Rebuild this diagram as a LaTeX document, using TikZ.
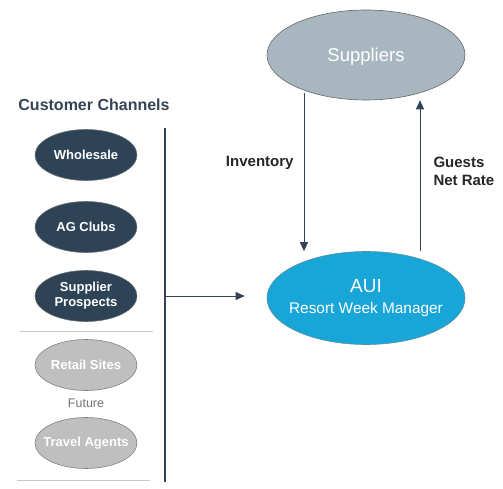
\documentclass[tikz,border=0pt]{standalone}
\usepackage{fontspec}
\setmainfont{Liberation Sans}
\usetikzlibrary{shapes.geometric,positioning,arrows.meta}
\definecolor{colChannel}{RGB}{46,67,86}
\definecolor{colFuture}{RGB}{191,191,191}
\definecolor{colSupplier}{RGB}{168,183,191}
\definecolor{colAui}{RGB}{24,166,216}
\definecolor{colLine}{RGB}{52,68,84}
\definecolor{colRule}{RGB}{200,200,200}

\begin{document}
\begin{tikzpicture}[x=1pt, y=-1pt,
    every node/.style={font=\fontsize{13}{15}\selectfont\bfseries},
    chan/.style={ellipse, minimum width=102pt, minimum height=51pt, inner xsep=-12pt, inner ysep=0pt,
        align=center, text=white},
    flow/.style={draw=colLine, line width=1pt, -{Triangle[length=9pt,width=8pt]}}]
    \useasboundingbox (0,0) rectangle (503,489);

    % customer channels
    \node[text=colLine, font=\fontsize{16}{18}\selectfont\bfseries] (title) at (94,105) {Customer Channels};
    \foreach \nm/\y/\txt in {whl/155/Wholesale, agc/227/AG Clubs, sp/296/{Supplier\\Prospects}} {
        \node[chan, fill=colChannel, draw=gray!70!colChannel, line width=0.6pt] (\nm) at (86,\y) {\txt};
    }
    \draw[colRule, line width=0.8pt] (20,331) -- (153,331);
    \node[chan, fill=colFuture, draw=gray, line width=0.6pt] (ret) at (86,365) {Retail Sites};
    \node[font=\fontsize{12.5}{14}\selectfont, text=gray!90!black] (fut) at (86,403) {Future};
    \node[chan, fill=colFuture, draw=gray, line width=0.6pt] (trv) at (86,443) {Travel Agents};
    \draw[colRule, line width=0.8pt] (17,480) -- (150,480);

    % channel bar
    \coordinate (barTop) at (165,128);
    \coordinate (barBot) at (165,482);
    \draw[colLine, line width=1.6pt] (barTop) -- (barBot);

    % supplier side
    \node[ellipse, minimum width=198pt, minimum height=90pt, fill=colSupplier, draw=gray!80!black,
        line width=0.6pt, text=white, text depth=0pt, font=\fontsize{18.5}{20}\selectfont] (sup) at (366,55) {Suppliers};
    \node[ellipse, minimum width=198pt, minimum height=93pt, inner xsep=-14pt, inner ysep=0pt,
        fill=colAui, draw=gray!60!colAui, line width=0.6pt, text=white, align=center,
        font=\fontsize{15.4}{21}\selectfont] (aui) at (366,298)
        {{\fontsize{19}{21}\selectfont AUI}\\Resort Week Manager};

    \draw[flow] ([xshift=-62pt,yshift=7pt]sup.south) -- ([xshift=-62pt]aui.north)
        node[pos=0.44, left=10pt, inner sep=0pt, font=\fontsize{15}{17}\selectfont\bfseries, text=black!85] (inv) {Inventory};
    \draw[flow] ([xshift=54pt]aui.north) -- ([xshift=54pt]sup.south)
        node[pos=0.53, right=13pt, inner sep=0pt, align=left, font=\fontsize{15}{18}\selectfont\bfseries, text=black!85] (gst) {Guests\\Net Rate};
    \draw[flow] ([xshift=1pt]barTop |- sp) -- ([xshift=-22pt]aui.west |- sp);
\end{tikzpicture}
\end{document}
